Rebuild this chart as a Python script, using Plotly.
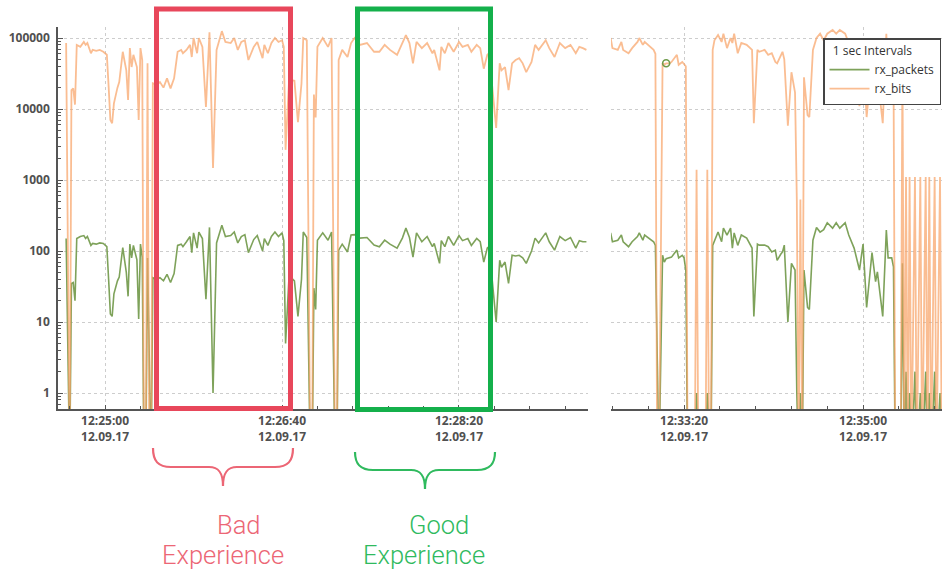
import numpy as np
import pandas as pd
import plotly.graph_objects as go

W, H = 942, 569

# ---------------- data (1 s samples, seconds relative to a reference time) ----------------
left_ref = "2017-09-12 12:25:00"
left_sec = [-22, -20, -19, -18, -17, -16, -14, -12, -11, -10, -8, -7, -5, -3, -1, 1, 2, 3, 4, 5,
            7, 8, 10, 12, 13, 14, 15, 16, 18, 19, 20, 21, 22, 23, 24, 25, 26, 27, 29, 31,
            33, 35, 37, 39, 41, 43, 44, 46, 48, 49, 50, 52, 53, 55, 57, 59, 61, 63, 66, 68,
            71, 73, 75, 77, 79, 81, 84, 86, 89, 90, 92, 94, 96, 98, 100, 101, 102, 104, 107, 109,
            111, 112, 114, 116, 117, 118, 119, 120, 123, 126, 128, 130, 131, 132, 134, 137, 139, 141, 144, 148,
            152, 155, 158, 161, 165, 168, 170, 172, 174, 176, 179, 182, 185, 186, 189, 190, 192, 194, 197, 200,
            202, 205, 207, 210, 212, 214, 216, 217, 221, 223, 224, 226, 228, 230, 232, 234, 236, 238, 241, 243,
            245, 249, 251, 254, 257, 260, 263, 266, 268, 270, 272]
left_bits = [85000, 0, 18500, 19500, 11500, 80000, 75000, 88000, 80000, 85000, 61000, 68000, 66000, 68000, 64000, 58000, 21000, 7000, 6300, 12000,
             20000, 24000, 64000, 35000, 13400, 72000, 39000, 58000, 39000, 7000, 72000, 49000, 0, 0, 44000, 0, 0, 23000, 22000, 24000,
             20000, 27000, 19500, 27000, 64000, 68000, 61000, 68000, 80000, 54000, 100000, 61000, 100000, 75000, 10700, 120000, 1480, 68000, 125000, 88000,
             85000, 100000, 68000, 88000, 93000, 49000, 75000, 88000, 52000, 80000, 61000, 85000, 100000, 88000, 93000, 75000, 2660, 26000, 25000, 6500,
             23000, 100000, 93000, 0, 0, 16000, 7600, 75000, 100000, 75000, 100000, 0, 0, 49000, 68000, 54000, 85000, 100000, 80000, 85000,
             64000, 64000, 80000, 68000, 58000, 85000, 110000, 85000, 44000, 88000, 72000, 85000, 61000, 68000, 35000, 75000, 61000, 85000, 64000, 88000,
             75000, 80000, 64000, 80000, 72000, 37000, 58000, 61000, 5400, 44000, 35000, 39000, 18500, 44000, 49000, 52000, 44000, 33000, 46000, 80000,
             68000, 93000, 72000, 54000, 85000, 72000, 80000, 61000, 75000, 72000, 68000]
left_packets = [150, 0, 35, 36, 20, 150, 160, 165, 150, 160, 120, 128, 125, 130, 128, 115, 40, 13, 12, 25,
                38, 43, 112, 50, 23, 125, 80, 120, 75, 11, 125, 82, 0, 0, 80, 0, 0, 42, 40, 42,
                38, 47, 36, 48, 120, 125, 115, 135, 160, 95, 180, 110, 185, 150, 21, 215, 1, 130, 230, 160,
                165, 185, 130, 160, 170, 95, 145, 165, 100, 150, 120, 160, 185, 160, 180, 140, 5, 45, 38, 12,
                40, 185, 155, 0, 0, 30, 15, 142, 180, 142, 185, 0, 0, 103, 125, 97, 168, 170, 152, 155,
                121, 115, 142, 125, 110, 152, 210, 155, 82, 180, 135, 160, 115, 128, 67, 140, 115, 160, 120, 165,
                140, 150, 120, 150, 135, 70, 110, 115, 10, 74, 59, 70, 35, 87, 85, 87, 80, 67, 100, 152,
                130, 180, 135, 103, 160, 140, 155, 110, 140, 135, 135]

right_ref = "2017-09-12 12:33:20"
right_sec = [-41, -40, -37, -35, -34, -31, -29, -26, -25, -23, -22, -20, -17, -16, -15, -14, -12, -11, -10, -8,
             -7, -4, -3, -1, 0, 1, 2, 6, 7, 8, 12, 13, 14, 15, 16, 17, 19, 21, 22, 24,
             26, 27, 28, 30, 32, 35, 38, 39, 41, 42, 45, 47, 49, 51, 52, 54, 55, 56, 58, 60,
             62, 63, 64, 65, 66, 67, 69, 70, 72, 74, 76, 78, 80, 83, 85, 87, 90, 92, 95, 98,
             100, 102, 105, 107, 108, 111, 113, 114, 116, 117, 118, 121, 122, 123, 124, 125, 126, 127,
             129, 130, 132, 133, 135, 136, 137, 138, 140, 141, 143, 144]
right_bits = [100000, 72000, 68000, 88000, 68000, 61000, 72000, 88000, 100000, 80000, 88000, 80000, 68000, 60000, 0, 0, 44000, 42000, 44000, 44000,
              46000, 58000, 42000, 46000, 42000, 40000, 0, 0, 1400, 0, 0, 1400, 0, 0, 68000, 93000, 110000, 88000, 115000, 72000,
              100000, 85000, 115000, 61000, 85000, 80000, 68000, 6300, 68000, 64000, 68000, 58000, 61000, 46000, 44000, 58000, 64000, 50000, 5800, 33000,
              17000, 530, 0, 530, 0, 28000, 8200, 7700, 68000, 100000, 115000, 93000, 115000, 130000, 115000, 130000, 115000, 85000, 58000, 11000,
              60000, 7700, 50000, 12600, 30000, 6300, 115000, 30000, 60000, 40000, 0, 0, 50000, 0, 1100, 0, 1100, 0,
              1100, 0, 1100, 0, 1100, 0, 1100, 0, 1100, 0, 1100, 0]
right_packets = [180, 135, 142, 168, 135, 115, 135, 160, 180, 142, 168, 152, 135, 120, 0, 0, 87, 70, 78, 80,
                 82, 103, 80, 87, 80, 54, 0, 0, 1, 0, 0, 1, 0, 0, 120, 142, 185, 135, 210, 168,
                 210, 110, 180, 120, 168, 152, 110, 12, 125, 121, 121, 115, 97, 103, 74, 90, 97, 121, 10, 67,
                 54, 1, 0, 1, 0, 54, 16, 15, 142, 215, 185, 200, 250, 210, 250, 210, 250, 168, 110, 54,
                 125, 16, 95, 37, 51, 12, 198, 80, 80, 60, 0, 0, 67, 0, 2, 0, 1, 0,
                 2, 0, 1, 0, 2, 0, 1, 0, 2, 0, 1, 0]

# highlighted sample (hover marker seen in the picture)
marker_sec = -10

series_names = ["rx_packets", "rx_bits"]
tick_fmt = "%H:%M:%S<br>%d.%m.%y"

# ---------------- helpers ----------------
def times(ref, secs):
    return pd.Timestamp(ref) + pd.to_timedelta(np.array(secs), unit="s")

def floor0(vals):
    v = np.array(vals, dtype=float)
    return np.where(v > 0, v, 0.1)  # zero drops below the log axis

def px(x, y):
    return x / W, 1 - y / H

GREEN = "rgba(112,152,72,0.9)"
ORANGE = "rgba(248,163,104,0.72)"
RED_BOX = "#E8475B"
GREEN_BOX = "#14B04B"
RED_TXT = "#EC6675"
GREEN_TXT = "#2FBA5E"

fig = go.Figure()

lt = times(left_ref, left_sec)
rt = times(right_ref, right_sec)

fig.add_trace(go.Scatter(x=lt, y=floor0(left_packets), mode="lines", name=series_names[0],
                         line=dict(color=GREEN, width=1.6), xaxis="x", yaxis="y", legendgroup="p"))
fig.add_trace(go.Scatter(x=lt, y=floor0(left_bits), mode="lines", name=series_names[1],
                         line=dict(color=ORANGE, width=1.8), xaxis="x", yaxis="y", legendgroup="b"))
fig.add_trace(go.Scatter(x=rt, y=floor0(right_packets), mode="lines", name=series_names[0],
                         line=dict(color=GREEN, width=1.6), xaxis="x2", yaxis="y2", legendgroup="p",
                         showlegend=False))
fig.add_trace(go.Scatter(x=rt, y=floor0(right_bits), mode="lines", name=series_names[1],
                         line=dict(color=ORANGE, width=1.8), xaxis="x2", yaxis="y2", legendgroup="b",
                         showlegend=False))
mi = right_sec.index(marker_sec)
fig.add_trace(go.Scatter(x=[rt[mi]], y=[right_bits[mi]], mode="markers", showlegend=False,
                         marker=dict(symbol="circle-open", size=7, color="#6E9B4A", line=dict(width=1.6)),
                         xaxis="x2", yaxis="y2"))

# ---------------- axes ----------------
y_dom = [1 - 409 / H, 1 - 27 / H]
tickfont = dict(family="Open Sans, DejaVu Sans", size=12, color="#505050", weight="bold")
grid = dict(showgrid=True, gridcolor="#cdcdcd", gridwidth=1, griddash="dot")

def t_at(ref, s):
    return pd.Timestamp(ref) + pd.Timedelta(seconds=s)

xcommon = dict(type="date", tickformat=tick_fmt, tick0="2017-09-12 12:25:00", dtick=100000,
               showline=True, linecolor="#555", linewidth=1.5, ticks="inside", ticklen=4,
               tickcolor="#555", tickfont=tickfont, zeroline=False,
               minor=dict(dtick=20000, tick0="2017-09-12 12:25:00", ticks="inside", ticklen=3,
                          tickcolor="#555", showgrid=False), **grid)

fig.update_layout(
    width=W, height=H, autosize=False,
    margin=dict(l=0, r=0, t=0, b=0),
    paper_bgcolor="white", plot_bgcolor="white",
    xaxis=dict(domain=[58 / W, 588 / W], anchor="y",
               range=[t_at(left_ref, -26.6), t_at(left_ref, 272.9)], **xcommon),
    xaxis2=dict(domain=[611 / W, 1.0], anchor="y2",
                range=[t_at(right_ref, -40.8), t_at(right_ref, 144.1)], **xcommon),
    yaxis=dict(type="log", domain=y_dom, anchor="x", range=[-0.225, 5.155], dtick=1,
               tickformat="d", showline=True, linecolor="#555", linewidth=1.5,
               ticks="inside", ticklen=5, tickcolor="#555", tickfont=tickfont, zeroline=False,
               ticklabelstandoff=4,
               minor=dict(ticks="inside", ticklen=3, tickcolor="#555", dtick="D1", showgrid=False),
               **grid),
    yaxis2=dict(type="log", domain=y_dom, anchor="x2", range=[-0.225, 5.155], dtick=1,
                showline=False, showticklabels=False, ticks="", zeroline=False, **grid),
    showlegend=True,
    legend=dict(x=823 / W, y=1 - 38 / H, xanchor="left", yanchor="top",
                bgcolor="white", bordercolor="#444", borderwidth=1.5,
                font=dict(family="Open Sans, DejaVu Sans", size=12, color="#333"),
                title=dict(text="  1 sec Intervals", font=dict(family="Open Sans, DejaVu Sans", size=12, color="#333")),
                tracegroupgap=0, itemwidth=40),
)

# ---------------- annotation overlays ----------------
shapes = []

def rect(x0, y0, x1, y1, color):
    a0, b0 = px(x0, y0)
    a1, b1 = px(x1, y1)
    return dict(type="rect", xref="paper", yref="paper", x0=a0, y0=b1, x1=a1, y1=b0,
                line=dict(color=color, width=5), fillcolor="rgba(0,0,0,0)", layer="above")

def brace(x0, x1, xc, yt, ym, yb, color):
    pts = [("M", [(x0, yt)]),
           ("C", [(x0, ym - 6), (x0 + 5, ym), (x0 + 18, ym)]),
           ("L", [(xc - 14, ym)]),
           ("C", [(xc - 4, ym), (xc, ym + 6), (xc, yb)]),
           ("C", [(xc, ym + 6), (xc + 4, ym), (xc + 14, ym)]),
           ("L", [(x1 - 18, ym)]),
           ("C", [(x1 - 5, ym), (x1, ym - 6), (x1, yt)])]
    s = ""
    for cmd, pl in pts:
        s += cmd + " " + " ".join("%.5f,%.5f" % px(a, b) for a, b in pl) + " "
    return dict(type="path", xref="paper", yref="paper", path=s.strip(),
                line=dict(color=color, width=2.2), layer="above")

shapes.append(rect(156.5, 9, 290.5, 408.5, RED_BOX))
shapes.append(rect(357.5, 9, 490.5, 409.5, GREEN_BOX))
shapes.append(brace(153, 293, 223, 448, 467, 486, RED_TXT))
shapes.append(brace(355, 495, 425, 452, 470, 489, GREEN_TXT))
fig.update_layout(shapes=shapes)

def label(text, x, y, color):
    a, b = px(x, y)
    return dict(text=text, x=a, y=b, xref="paper", yref="paper", showarrow=False,
                xanchor="center", yanchor="middle",
                font=dict(family="Roboto, Lato, sans-serif", size=25.5, color=color, weight=300))

fig.update_layout(annotations=[
    label("Bad", 238, 525, RED_TXT),
    label("Experience", 223, 555, RED_TXT),
    label("Good", 439, 525, GREEN_TXT),
    label("Experience", 424, 555, GREEN_TXT),
])

fig.write_html("out.html", config={"displayModeBar": False},
               post_script="document.body.style.margin='0';document.body.style.padding='0';"
                           "document.body.style.overflow='hidden';")
